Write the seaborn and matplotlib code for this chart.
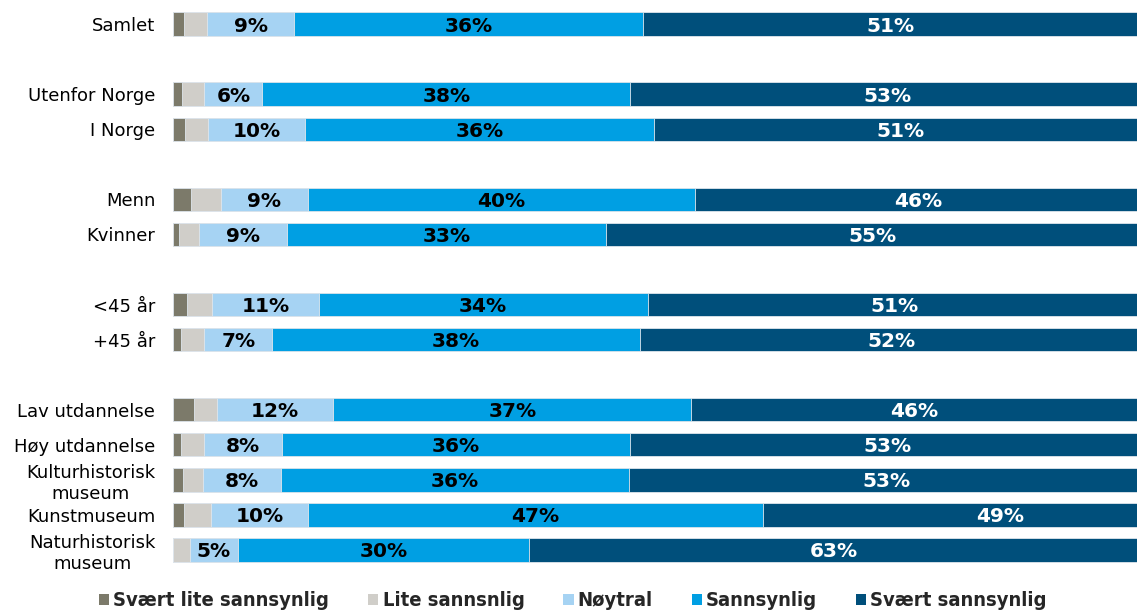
import matplotlib
matplotlib.use("Agg")
import matplotlib.pyplot as plt
import seaborn as sns
import pandas as pd
from matplotlib.patches import Patch
from matplotlib.font_manager import FontProperties

# Survey groups (rows) and share of answers per response category (%)
groups = ["Samlet", "Utenfor Norge", "I Norge", "Menn", "Kvinner", "<45 år", "+45 år",
          "Lav utdannelse", "Høy utdannelse", "Kulturhistorisk\nmuseum", "Kunstmuseum",
          "Naturhistorisk\nmuseum"]
svaert_lite = [1.1, 0.9, 1.2, 1.8, 0.6, 1.4, 0.8, 2.1, 0.8, 1.0, 1.1, 0.0]
lite = [2.4, 2.3, 2.4, 3.1, 2.1, 2.6, 2.4, 2.4, 2.4, 2.1, 2.8, 1.7]
noytral = [9, 6, 10, 9, 9, 11, 7, 12, 8, 8, 10, 5]
sannsynlig = [36, 38, 36, 40, 33, 34, 38, 37, 36, 36, 47, 30]
svaert = [51, 53, 51, 46, 55, 51, 52, 46, 53, 53, 49, 63]

categories = ["Svært lite sannsynlig", "Lite sannsnlig", "Nøytral", "Sannsynlig",
              "Svært sannsynlig"]
colors = ["#7c7a6a", "#d0cec9", "#a6d3f3", "#009fe3", "#004f7b"]
label_colors = [None, None, "black", "black", "white"]

# Row order with empty spacer slots between the groups
order = ["Samlet", " ", "Utenfor Norge", "I Norge", "  ", "Menn", "Kvinner", "   ",
         "<45 år", "+45 år", "    ", "Lav utdannelse", "Høy utdannelse",
         "Kulturhistorisk\nmuseum", "Kunstmuseum", "Naturhistorisk\nmuseum"]

series = [svaert_lite, lite, noytral, sannsynlig, svaert]
df = pd.DataFrame({"gruppe": groups})
running = [0.0] * len(groups)
starts = []
for k, s in enumerate(series):
    starts.append(list(running))
    running = [r + v for r, v in zip(running, s)]
    df[f"cum{k}"] = running

sns.set_theme(style="white")
plt.rcParams["font.family"] = ["DejaVu Sans"]

fig = plt.figure(figsize=(11.37, 6.10), dpi=100)
ax = fig.add_axes([173.3 / 1137, 1 - 567.5 / 610, 1 - 173.3 / 1137, (567.5 - 6.5) / 610])

# Stacked bars: draw cumulative totals from the outermost segment inwards
for k in range(len(series) - 1, -1, -1):
    sns.barplot(data=df, x=f"cum{k}", y="gruppe", order=order, orient="h",
                color=colors[k], saturation=1, width=0.665, errorbar=None,
                edgecolor="#dfe6ec", linewidth=0.6, ax=ax)

# Value labels centred in the three largest segments
for k in (2, 3, 4):
    for i, g in enumerate(groups):
        v = series[k][i]
        ax.text(starts[k][i] + v / 2, order.index(g), f"{v}%", ha="center",
                va="center_baseline", fontsize=14.5, fontweight="bold",
                color=label_colors[k])

ax.set_xlim(0, 99.5)
ax.set_ylim(len(order) - 0.5, -0.5)
ax.set_xlabel("")
ax.set_ylabel("")
ax.set_xticks([])
for sp in ax.spines.values():
    sp.set_visible(False)
ax.tick_params(axis="y", length=0, pad=13, labelsize=13, labelcolor="black")
for lab in ax.get_yticklabels():
    lab.set_multialignment("center")

handles = [Patch(facecolor=c, edgecolor="none", label=l) for c, l in zip(colors, categories)]
leg_font = FontProperties(family="DejaVu Sans", weight="bold", stretch="condensed", size=14.5)
fig.legend(handles=handles, loc="center", bbox_to_anchor=(573 / 1137, 1 - 601 / 610),
           ncol=5, frameon=False, prop=leg_font, handlelength=0.5, handleheight=0.5,
           handletextpad=0.2, columnspacing=1.94, borderpad=0, borderaxespad=0)

fig.savefig("out.png", dpi=100)
